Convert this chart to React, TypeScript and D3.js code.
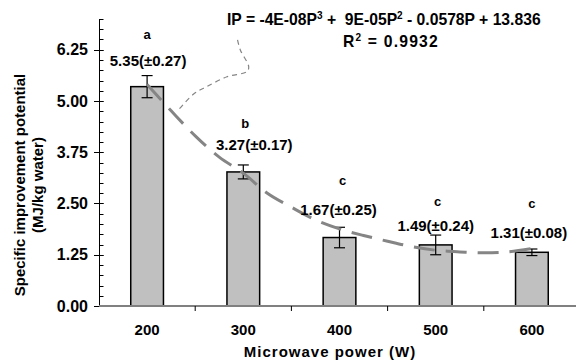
import React from 'react';
import * as d3 from 'd3';

// Mean specific improvement potential per microwave power level
const powers = ['200', '300', '400', '500', '600'];
const means = [5.35, 3.27, 1.67, 1.49, 1.31];
const errors = [0.27, 0.17, 0.25, 0.24, 0.08];
const groups = ['a', 'b', 'c', 'c', 'c'];
const yTicks = [0, 1.25, 2.5, 3.75, 5, 6.25];

// Polynomial trend curve (W, MJ/kg water)
const fitP = [200, 225, 250, 275, 300, 325, 350, 375, 400, 425, 450, 475, 500, 525, 550, 575, 600];
const fitV = [5.4, 4.76, 4.15, 3.63, 3.24, 2.75, 2.41, 2.1, 1.88, 1.72, 1.58, 1.45, 1.36, 1.32, 1.3, 1.32, 1.4];
// Upper branch of the trend curve
const tailP = [294, 297, 305.6, 303.9, 283, 262, 248.4, 231];
const tailV = [6.49, 6.24, 5.84, 5.72, 5.59, 5.35, 5.17, 4.74];

const W = 576;
const H = 360;
const FONT = "'Liberation Sans', Arial, sans-serif";

// label placement nudges (px) relative to the top of each error bar
const labelNudge: [number, number][] = [
  [1, -15],
  [11, -20],
  [-1, -18],
  [0, -9],
  [-3, -16],
];
const letterNudge = [-26, -22, -29, -25, -30];
const letterDx = [0, 2, 3, 2, 0];

export default function App() {
  const x0 = 99;
  const x1 = 580;
  const yBottom = 306;
  const yTop = 19;

  const x = d3.scaleBand<string>().domain(powers).range([x0, x1]).paddingInner(0.66).paddingOuter(0.33);
  const y = d3.scaleLinear().domain([0, 7]).range([yBottom, yTop]);
  const step = x.step();
  const bw = x.bandwidth();
  const cx = (p: string) => (x(p) as number) + bw / 2;
  const xp = d3.scaleLinear().domain([200, 600]).range([cx('200'), cx('600')]);

  const fitLine = d3
    .line<number>()
    .x((_, i) => xp(fitP[i]))
    .y((v) => y(v))
    .curve(d3.curveCatmullRom);
  const tailLine = d3
    .line<number>()
    .x((_, i) => xp(tailP[i]))
    .y((v) => y(v))
    .curve(d3.curveCatmullRom);

  const minorTicks = d3.range(0, 7 + 0.001, 0.25);

  return (
    <svg
      width={W}
      height={H}
      style={{ position: 'absolute', left: 0, top: 0, background: '#fff' }}
      fontFamily={FONT}
      fontWeight="bold"
    >
      {/* bars */}
      {powers.map((p, i) => (
        <rect
          key={p}
          x={x(p)}
          y={y(means[i])}
          width={bw}
          height={yBottom - y(means[i])}
          fill="#c0c0c0"
          stroke="#000"
          strokeWidth={1.5}
        />
      ))}

      {/* error bars */}
      {powers.map((p, i) => {
        const c = cx(p);
        const hi = y(means[i] + errors[i]);
        const lo = y(means[i] - errors[i]);
        return (
          <g key={p} stroke="#000" strokeWidth={1.2}>
            <line x1={c} x2={c} y1={hi} y2={lo} />
            <line x1={c - 5.5} x2={c + 5.5} y1={hi} y2={hi} />
            <line x1={c - 5.5} x2={c + 5.5} y1={lo} y2={lo} />
          </g>
        );
      })}

      {/* trend curve */}
      <path d={fitLine(fitV) || ''} fill="none" stroke="#858585" strokeWidth={3} strokeDasharray="21 11" />
      <path d={tailLine(tailV) || ''} fill="none" stroke="#858585" strokeWidth={1.2} strokeDasharray="5 4" />

      {/* y axis */}
      <line x1={x0 + 0.5} x2={x0 + 0.5} y1={yTop} y2={yBottom} stroke="#000" strokeWidth={1} />
      {minorTicks.map((t) => (
        <line key={t} x1={x0 + 0.5} x2={x0 + 4.5} y1={Math.round(y(t)) + 0.5} y2={Math.round(y(t)) + 0.5} stroke="#000" />
      ))}
      {yTicks.map((t) => (
        <g key={t}>
          <line x1={x0 - 5} x2={x0 + 4.5} y1={Math.round(y(t)) + 0.5} y2={Math.round(y(t)) + 0.5} stroke="#000" />
          <text x={88} y={y(t)} dy="0.35em" textAnchor="end" fontSize={16}>
            {t.toFixed(2)}
          </text>
        </g>
      ))}

      {/* x axis */}
      <line x1={x0} x2={x1} y1={yBottom} y2={yBottom} stroke="#808080" strokeWidth={2} />
      {d3.range(1, 5).map((k) => (
        <line key={k} x1={x0 + k * step} x2={x0 + k * step} y1={yBottom} y2={yBottom + 5} stroke="#000" />
      ))}
      {powers.map((p) => (
        <text key={p} x={cx(p)} y={335} textAnchor="middle" fontSize={15}>
          {p}
        </text>
      ))}

      {/* value and group labels */}
      {powers.map((p, i) => {
        const top = y(means[i] + errors[i]);
        const [dx, dy] = labelNudge[i];
        const ly = top + dy;
        return (
          <g key={p}>
            <text x={cx(p) + dx} y={ly} dy="0.35em" textAnchor="middle" fontSize={15}>
              {`${means[i].toFixed(2)}(±${errors[i].toFixed(2)})`}
            </text>
            <text x={cx(p) + letterDx[i]} y={ly + letterNudge[i]} dy="0.35em" textAnchor="middle" fontSize={13}>
              {groups[i]}
            </text>
          </g>
        );
      })}

      {/* equation */}
      <text x={227} y={25} fontSize={15.7} style={{ whiteSpace: 'pre' }}>
        IP = -4E-08P<tspan dy={-6} fontSize={10}>3</tspan>
        <tspan dy={6}>{' +  9E-05P'}</tspan>
        <tspan dy={-6} fontSize={10}>2</tspan>
        <tspan dy={6}>{' - 0.0578P + 13.836'}</tspan>
      </text>
      <text x={343} y={47} fontSize={15.7} letterSpacing={1.2} style={{ whiteSpace: 'pre' }}>
        R<tspan dy={-6} fontSize={10}>2</tspan>
        <tspan dy={6}>{' = 0.9932'}</tspan>
      </text>

      {/* axis titles */}
      <text x={330} y={357} textAnchor="middle" fontSize={15} letterSpacing={1}>
        Microwave power (W)
      </text>
      <g transform="translate(20,185) rotate(-90)">
        <text x={0} y={0} dy="0.35em" textAnchor="middle" fontSize={15}>
          Specific improvement potential
        </text>
        <text x={0} y={18} dy="0.35em" textAnchor="middle" fontSize={15}>
          (MJ/kg water)
        </text>
      </g>
    </svg>
  );
}
